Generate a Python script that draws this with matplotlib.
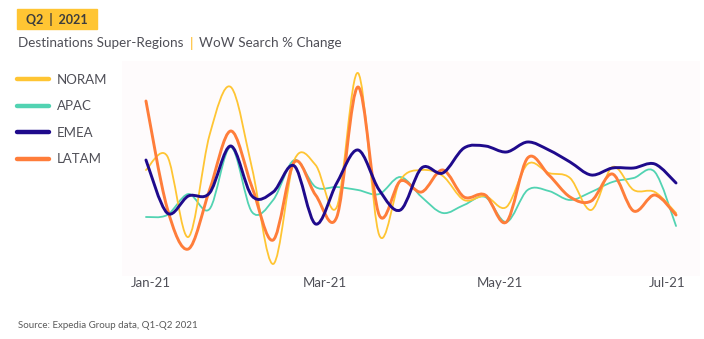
import matplotlib
matplotlib.use("Agg")
import matplotlib.pyplot as plt
import numpy as np
from matplotlib.path import Path
from matplotlib.patches import PathPatch, Rectangle
from matplotlib.lines import Line2D

plt.rcParams['font.family'] = ['Lato', 'DejaVu Sans']

# weekly WoW search % change, Jan-Jun 2021
weeks = np.arange(26)
noram = [10, 17, -23.5, 27.5, 51.5, 11, -37, 15, 12.5, -8.5, 58.5, -22.5, 5, 10, 7,
         -5, -3, -8.5, 13, 8.5, 6, -10, 11.5, 0, -1, -11.5]
apac = [-13.5, -12.5, -2, -9.5, 21.5, -11, -5, 15, 1.5, 1.5, 0, -2, 6.5, -3.5, -11.5,
        -7.5, -3.5, -16, 0, -0.5, -5, -1, 4, 6, 9, -18]
emea = [15, -11.5, -3, -1.5, 22, -3, -1, 12, -17, 3.5, 20, 0, -10, 11, 8.5,
        21, 22, 19, 24, 20, 14, 7.5, 11, 11, 13, 3.5]
latam = [44.5, -9, -29.5, 0, 29.5, 1.5, -25, 14, -2.5, -13.5, 51.5, -12.5, 4.5, -1, 10,
         -3.5, -2.5, -16, 16, 7.5, -3.5, -5.5, 8, -10.5, -2.5, -12.5]

tick_pos = [0.24, 8.44, 16.7, 24.6]
tick_labels = ['Jan-21', 'Mar-21', 'May-21', 'Jul-21']

names = ['NORAM', 'APAC', 'EMEA', 'LATAM']
colors = {'NORAM': '#ffc533', 'APAC': '#52d3b2', 'EMEA': '#1f0a8c', 'LATAM': '#ff7d3a'}
widths = {'NORAM': 1.3, 'APAC': 1.3, 'EMEA': 2.1, 'LATAM': 2.1}
series = {'NORAM': noram, 'APAC': apac, 'EMEA': emea, 'LATAM': latam}

text_col = '#4f4f57'


def smooth_path(x, y):
    # Catmull-Rom style bezier, like a spreadsheet "smoothed line"
    pts = np.column_stack([x, y]).astype(float)
    n = len(pts)
    verts = [pts[0]]
    codes = [Path.MOVETO]
    for i in range(n - 1):
        p0 = pts[max(i - 1, 0)]
        p1 = pts[i]
        p2 = pts[i + 1]
        p3 = pts[min(i + 2, n - 1)]
        c1 = p1 + (p2 - p0) / 6.0
        c2 = p2 - (p3 - p1) / 6.0
        verts += [c1, c2, p2]
        codes += [Path.CURVE4] * 3
    return Path(verts, codes)


W, H = 704, 339
fig = plt.figure(figsize=(W / 100, H / 100), dpi=100)

ax = fig.add_axes([122 / W, (H - 276) / H, (700 - 122) / W, (276 - 61) / H])
ax.set_facecolor('#fefbfc')
for s in ax.spines.values():
    s.set_visible(False)

for name in ['APAC', 'NORAM', 'LATAM', 'EMEA']:
    patch = PathPatch(smooth_path(weeks, series[name]), fill=False,
                      edgecolor=colors[name], lw=widths[name], capstyle='round',
                      joinstyle='round')
    ax.add_patch(patch)

ax.set_xlim(-1.13, 26.13)
ax.set_ylim(-43, 64.5)
ax.set_yticks([])
ax.set_xticks(tick_pos, tick_labels)
ax.tick_params(axis='x', length=0, pad=1, labelsize=9.5, labelcolor=text_col)

# legend
handles = [Line2D([], [], color=colors[n], lw=3.2, solid_capstyle='round') for n in names]
fig.legend(handles, names, loc='upper left', bbox_to_anchor=(5 / W, 1 - 62 / H),
           frameon=False, fontsize=9.5, handlelength=2.4, handletextpad=0.6,
           labelspacing=1.1, labelcolor=text_col)

# header badge
fig.patches.append(Rectangle((17 / W, 1 - 29 / H), 80 / W, 20 / H,
                             transform=fig.transFigure, color='#ffc533', zorder=0))
fig.text(57 / W, 1 - 19 / H, 'Q2  |  2021', ha='center', va='center',
         fontsize=9, fontweight='bold', color='#3d3d3d')

# subtitle with a coloured divider
renderer = fig.canvas.get_renderer()
x = 18 / W
y = 1 - 43 / H
for part, col in [('Destinations Super-Regions', text_col), ('|', '#ffb81c'),
                  ('WoW Search % Change', text_col)]:
    t = fig.text(x, y, part, ha='left', va='center', fontsize=9.7, color=col)
    bb = t.get_window_extent(renderer)
    x += (bb.width + 6) / W

fig.text(18 / W, 1 - 325 / H, 'Source: Expedia Group data, Q1-Q2 2021',
         ha='left', va='center', fontsize=7, color='#5a5a5a')

fig.savefig('out.png', dpi=100)
